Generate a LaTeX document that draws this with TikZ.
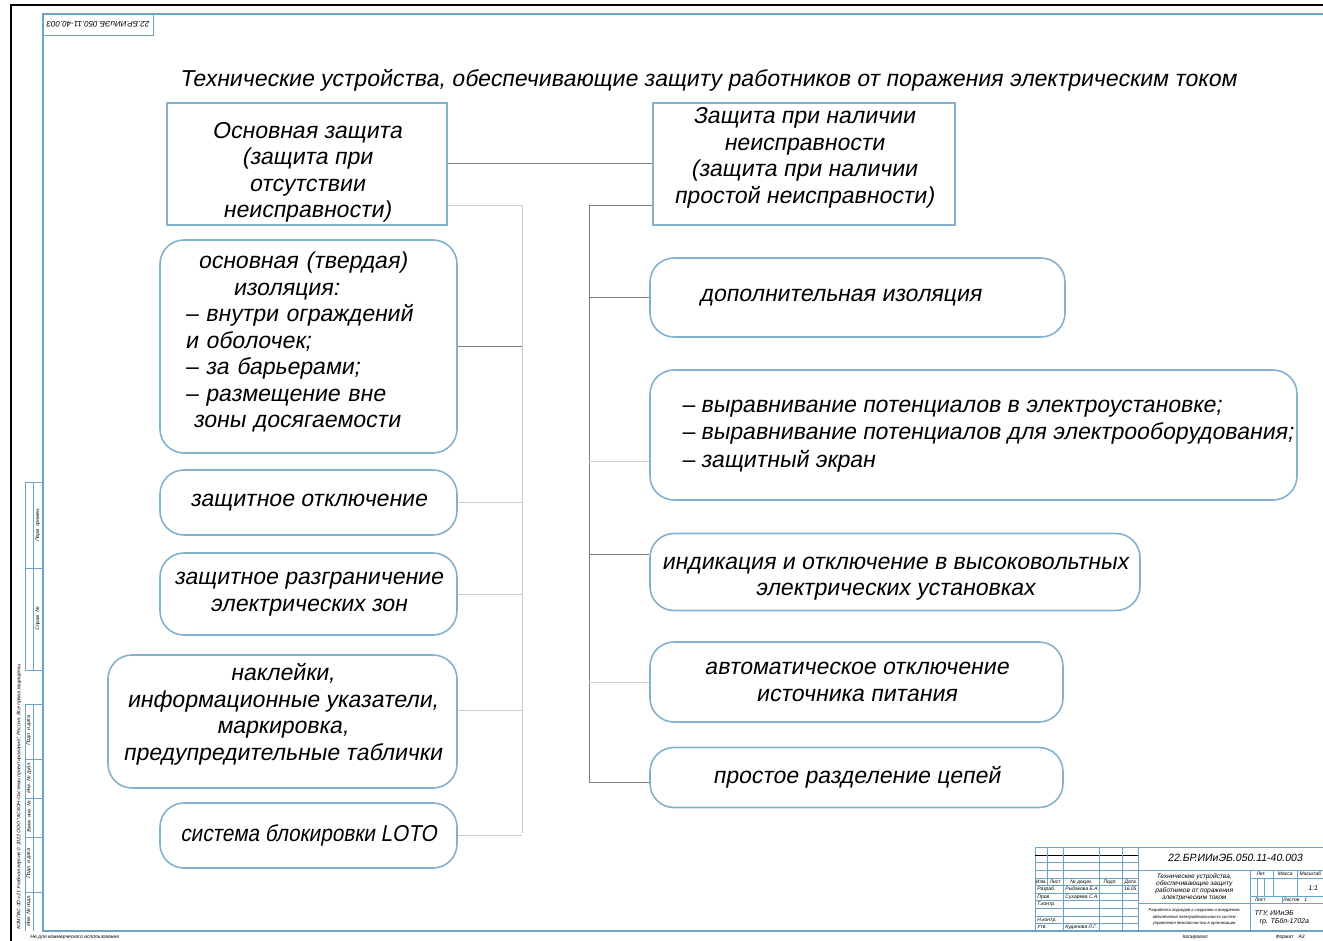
\documentclass[tikz,border=0pt]{standalone}
\usepackage{fontspec}
\setmainfont{Liberation Sans}
\newfontfamily\gostfont{Liberation Sans}[FakeSlant=0.18]
\usetikzlibrary{positioning}
\definecolor{framecol}{RGB}{105,165,200}
\definecolor{boxcol}{RGB}{130,178,205}
\definecolor{wiredark}{RGB}{125,125,125}
\definecolor{wirelight}{RGB}{205,205,205}
\tikzset{
  headbox/.style={draw=boxcol,line width=1.6pt,inner sep=0pt,align=center,
    font=\gostfont\fontsize{23}{26.5}\selectfont},
  itembox/.style={draw=boxcol,line width=1.6pt,rounded corners=24pt,inner sep=0pt,
    align=center,font=\gostfont\fontsize{23}{26.5}\selectfont},
  wire/.style={wiredark,line width=1pt},
  faintwire/.style={wirelight,line width=1pt},
  formline/.style={framecol,line width=0.8pt},
  tinytext/.style={font=\gostfont\fontsize{5}{6}\selectfont,inner sep=0pt}
}

\begin{document}
\begin{tikzpicture}[x=1pt,y=-1pt]
  \useasboundingbox (0,0) rectangle (1323,941);
  % sheet frame
  \draw[line width=2pt] (11,960) -- (11,5) -- (1340,5);
  \draw[framecol,line width=1.2pt] (43,14) rectangle (1340,931);
  \draw[formline] (43,35) -- (153,35) -- (153,14);
  \node[inner sep=0pt,font=\fontsize{8}{8}\selectfont\itshape,rotate=180] (stamp) at (98,24.5) {22.БР.ИИиЭБ.050.11-40.003};

  % title
  \node[font=\gostfont\fontsize{23}{26}\selectfont] (title) at (708,80)
    {Технические устройства, обеспечивающие защиту работников от поражения электрическим током};

  % headers
  \node[headbox,minimum width=280,minimum height=122] (basic) at (307,164)
    {\rule{0pt}{33pt}Основная защита\\(защита при\\отсутствии\\неисправности)};
  \node[headbox,minimum width=302,minimum height=122] (fault) at (804,164)
    {Защита при наличии\\неисправности\\(защита при наличии\\простой неисправности)\rule[-17pt]{0pt}{17pt}};

  % left column
  \node[itembox,minimum width=297,minimum height=213,align=left,text width=247] (ins) at (308.5,346.5)
    {\hspace*{13pt}основная (твердая)\\\hspace*{48pt}изоляция:\\– внутри ограждений\\и оболочек;\\– за барьерами;\\– размещение вне\\\hspace*{8pt}зоны досягаемости\rule[-13pt]{0pt}{13pt}};
  \node[itembox,minimum width=297,minimum height=65] (rcd) at (308.5,502.5) {защитное отключение};
  \node[itembox,minimum width=297,minimum height=82] (zones) at (308.5,594)
    {защитное разграничение\\электрических зон};
  \node[itembox,minimum width=349,minimum height=133] (signs) at (282.5,721.5)
    {наклейки,\\информационные указатели,\\маркировка,\\предупредительные таблички\rule[-19pt]{0pt}{19pt}};
  \node[itembox,minimum width=297,minimum height=65] (loto) at (308.5,835.5)
    {\addfontfeature{FakeStretch=0.9}система блокировки LOTO};

  % right column
  \node[itembox,minimum width=415,minimum height=79] (addins) at (857.5,297.5)
    {дополнительная изоляция\hspace*{34pt}};
  \node[itembox,minimum width=647,minimum height=130] (equip) at (973.5,435) {};
  \node[font=\gostfont\fontsize{23}{27.5}\selectfont,align=left,anchor=west] (equiptext) at (678,436)
    {– выравнивание потенциалов в электроустановке;\\– выравнивание потенциалов для электрооборудования;\\– защитный экран};
  \node[itembox,minimum width=490,minimum height=77] (hv) at (895,572)
    {\rule{0pt}{26pt}индикация и отключение в высоковольтных\\электрических установках};
  \node[itembox,minimum width=413,minimum height=80] (autooff) at (856.5,682)
    {автоматическое отключение\\источника питания};
  \node[itembox,minimum width=413,minimum height=60] (split) at (856.5,777.5) {простое разделение цепей};

  % connectors
  \coordinate (lbus) at (522,206);
  \coordinate (lbusend) at (522,833);
  \coordinate (rbus) at (589,206);
  \coordinate (rbusend) at (589,782);
  \coordinate (lsigns) at (522,710);
  \coordinate (requip) at (589,461);
  \coordinate (rhv) at (589,554);
  \draw[wire] (basic.east) -- (fault.west);
  \draw[faintwire] (lbus -| basic.east) -- (lbus) -- (lbusend);
  \draw[wire] (rbus -| fault.west) -- (rbus) -- (rbusend);
  \draw[wire] (ins.east) -- (ins.east -| lbus);
  \draw[faintwire] (rcd.east) -- (rcd.east -| lbus);
  \draw[faintwire] (zones.east) -- (zones.east -| lbus);
  \draw[faintwire] (lsigns -| signs.east) -- (lsigns);
  \draw[faintwire] (loto.east) -- (loto.east -| lbus);
  \draw[wire] (addins.west -| rbus) -- (addins.west);
  \draw[faintwire] (requip) -- (requip -| equip.west);
  \draw[wire] (rhv) -- (rhv -| hv.west);
  \draw[faintwire] (autooff.west -| rbus) -- (autooff.west);
  \draw[wire] (rbusend) -- (rbusend -| split.west);

  % side strip
  \draw[formline] (25,482) rectangle (43,670);
  \draw[formline] (33,482) -- (33,670);
  \draw[formline] (25,568) -- (43,568);
  \draw[formline] (25,704) -- (43,704);
  \draw[formline] (25,704) -- (25,931);
  \draw[formline] (33,704) -- (33,931);
  \foreach \y in {759,798,837,892}
    \draw[formline] (25,\y) -- (43,\y);
  \node[tinytext,rotate=90] (perv) at (38,525) {Перв. примен.};
  \node[tinytext,rotate=90] (sprav) at (38,619) {Справ. №};
  \node[tinytext,rotate=90] (sign1) at (29,731) {Подп. и дата};
  \node[tinytext,rotate=90] (dubl) at (29,778) {Инв. № дубл.};
  \node[tinytext,rotate=90] (vzam) at (29,817) {Взам. инв. №};
  \node[tinytext,rotate=90] (sign2) at (29,864) {Подп. и дата};
  \node[tinytext,rotate=90] (podl) at (29,911) {Инв. № подл.};
  \node[tinytext,rotate=90,anchor=west] (kompas) at (19,930)
    {КОМПАС-3D v21 Учебная версия © 2022 ООО "АСКОН-Системы проектирования", Россия. Все права защищены.};
  \node[tinytext,anchor=west] (noncom) at (30,937) {Не для коммерческого использования};

  % title block
  \draw[formline] (1035,847) -- (1340,847);
  \draw[formline] (1035,847) -- (1035,931);
  \foreach \y in {862,870,878,885,893,900,908,916,923}
    \draw[formline] (1035,\y) -- (1138,\y);
  \draw[line width=0.8pt] (1035,855) -- (1138,855);
  \draw[formline] (1047,847) -- (1047,885);
  \foreach \x in {1063,1099,1122,1138}
    \draw[formline] (\x,847) -- (\x,931);
  \draw[formline] (1138,870) -- (1340,870);
  \draw[formline] (1138,903) -- (1340,903);
  \draw[formline] (1250,870) -- (1250,931);
  \draw[formline] (1250,878) -- (1340,878);
  \draw[formline] (1250,896) -- (1340,896);
  \draw[formline] (1273,870) -- (1273,896);
  \draw[formline] (1297,870) -- (1297,896);
  \draw[formline] (1257,878) -- (1257,896);
  \draw[formline] (1264,878) -- (1264,896);
  \draw[formline] (1282,896) -- (1282,903);
  \node[font=\gostfont\fontsize{10.5}{12}\selectfont] (docnum) at (1235,858) {22.БР.ИИиЭБ.050.11-40.003};
  \node[tinytext,font=\gostfont\fontsize{6.5}{7}\selectfont,align=center] (docname) at (1194,887)
    {Технические устройства,\\обеспечивающие защиту\\работников от поражения\\электрическим током};
  \node[tinytext,font=\gostfont\fontsize{4.2}{6.5}\selectfont,align=center] (docnote) at (1194,917)
    {Разработка подходов к созданию и внедрению\\обеспечения электробезопасности систем\\управления безопасностью в организации};
  \node[tinytext,font=\gostfont\fontsize{7}{8}\selectfont] (org1) at (1274,913) {ТГУ, ИИиЭБ};
  \node[tinytext,font=\gostfont\fontsize{7}{8}\selectfont] (org2) at (1284,922) {гр. ТБбп-1702а};
  \node[tinytext] (lit) at (1261,874) {Лит.};
  \node[tinytext] (mass) at (1285,874) {Масса};
  \node[tinytext] (scale) at (1310,874) {Масштаб};
  \node[tinytext,font=\gostfont\fontsize{7}{8}\selectfont] (scaleval) at (1313,888) {1:1};
  \node[tinytext] (sheet) at (1260,900) {Лист};
  \node[tinytext] (sheets) at (1295,900) {Листов\quad 1};
  \node[tinytext] (hizm) at (1041,882) {Изм.};
  \node[tinytext] (hlist) at (1055,882) {Лист};
  \node[tinytext] (hdoc) at (1081,882) {№ докум.};
  \node[tinytext] (hsign) at (1110,882) {Подп.};
  \node[tinytext] (hdate) at (1130,882) {Дата};
  \node[tinytext,anchor=west] (rdev) at (1037,889) {Разраб.};
  \node[tinytext,anchor=west] (rdevname) at (1065,889) {Рыбакова Е.А.};
  \node[tinytext] (rdevdate) at (1130,889) {16.05};
  \node[tinytext,anchor=west] (rchk) at (1037,897) {Пров.};
  \node[tinytext,anchor=west] (rchkname) at (1065,897) {Сухарева С.А.};
  \node[tinytext,anchor=west] (rtc) at (1037,904) {Т.контр.};
  \node[tinytext,anchor=west] (rnc) at (1037,920) {Н.контр.};
  \node[tinytext,anchor=west] (rok) at (1037,927) {Утв.};
  \node[tinytext,anchor=west] (rokname) at (1065,927) {Кудинова Л.Г.};
  \node[tinytext] (copied) at (1195,937) {Копировал};
  \node[tinytext] (format) at (1290,937) {Формат\quad А3};
\end{tikzpicture}
\end{document}
